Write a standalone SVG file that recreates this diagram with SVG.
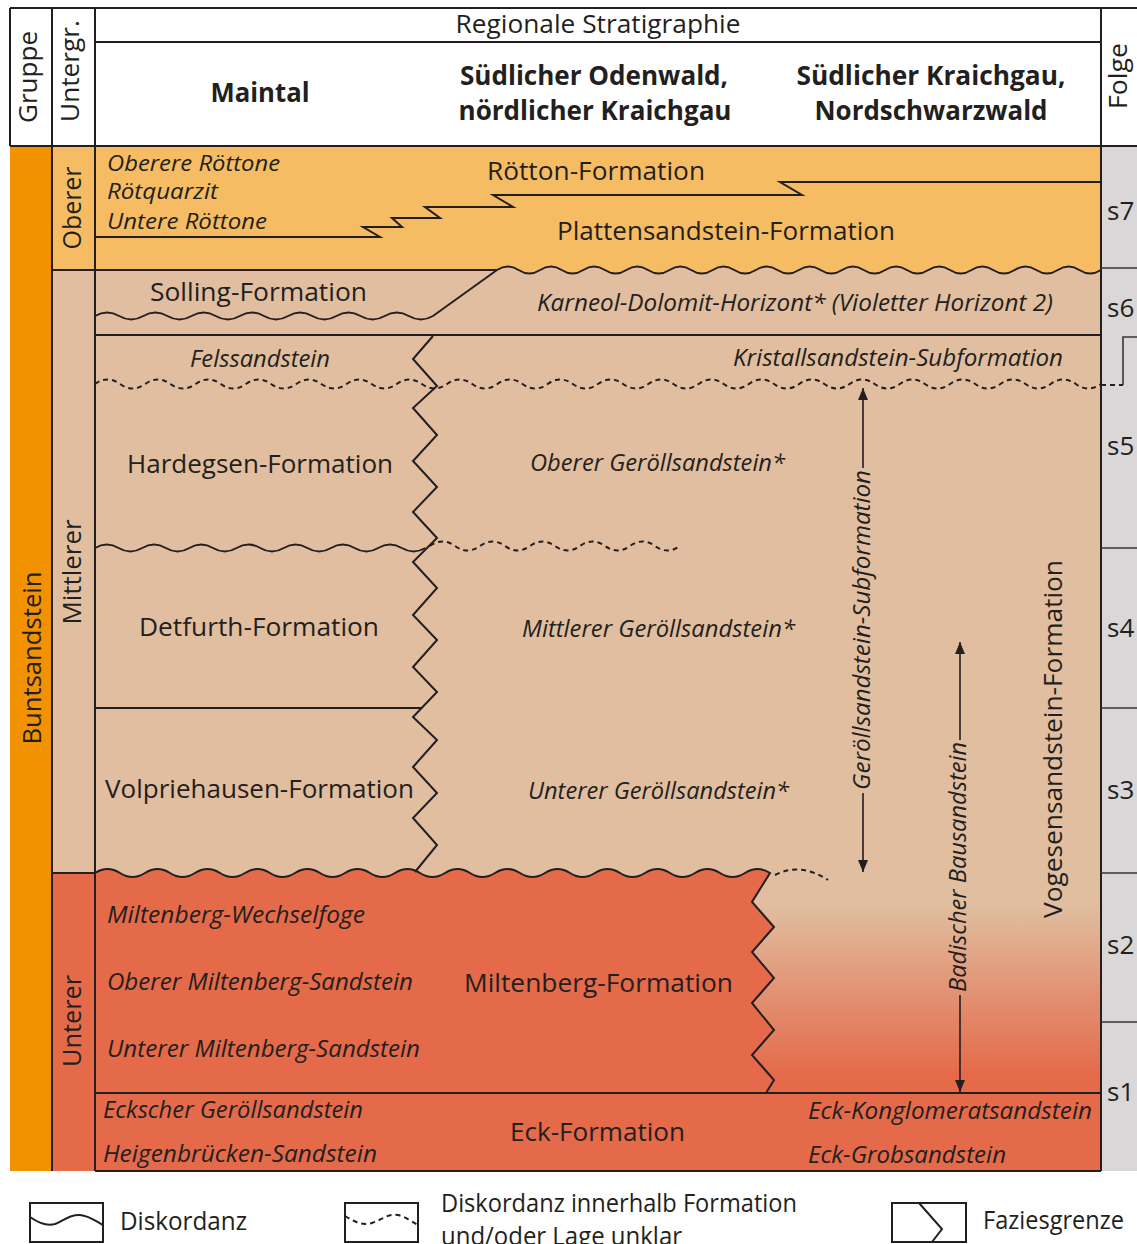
<svg xmlns="http://www.w3.org/2000/svg" width="1137" height="1244" viewBox="0 0 1137 1244">
<defs>
<style>
.ln{fill:none;stroke:#231f20;stroke-width:2}
.dl{fill:none;stroke:#231f20;stroke-width:2;stroke-dasharray:5 4}
.fl{fill:none;stroke:#3a3637;stroke-width:1.6}
.t{font-family:"Open Sans","Liberation Sans",sans-serif;fill:#231f20;font-size:26px}
.i{font-style:italic;font-size:24px}
.s{font-size:22px}
.b{font-weight:bold}
.ar{fill:none;stroke:#231f20;stroke-width:1.6;marker-end:url(#ah)}
</style>
<marker id="ah" viewBox="0 0 12 10" refX="12" refY="5" markerWidth="12" markerHeight="10" markerUnits="userSpaceOnUse" orient="auto"><path d="M0,0 L12,5 L0,10 z" fill="#231f20"/></marker>
<linearGradient id="grad" gradientUnits="userSpaceOnUse" x1="0" y1="905" x2="0" y2="1075"><stop offset="0" stop-color="#e0be9f"/><stop offset="1" stop-color="#e46a4a"/></linearGradient>
</defs>
<rect width="1137" height="1244" fill="#ffffff"/>

<g id="fills">
<rect x="10" y="146" width="42" height="1025" fill="#f39200"/>
<rect x="52" y="146" width="43" height="124" fill="#f6bc63"/>
<rect x="52" y="270" width="43" height="603" fill="#e0be9f"/>
<rect x="52" y="873" width="43" height="298" fill="#e46a4a"/>
<rect x="1101" y="146" width="36" height="1025" fill="#d9d7d8"/>
<rect x="95" y="146" width="1006" height="140" fill="#f6bc63"/>
<path d="M95,270 L497,270 q10.79,-7 21.57,0 t21.57,0 t21.57,0 t21.57,0 t21.57,0 t21.57,0 t21.57,0 t21.57,0 t21.57,0 t21.57,0 t21.57,0 t21.57,0 t21.57,0 t21.57,0 t21.57,0 t21.57,0 t21.57,0 t21.57,0 t21.57,0 t21.57,0 t21.57,0 t21.57,0 t21.57,0 t21.57,0 t21.57,0 t21.57,0 t21.57,0 t21.57,0 L1101,1093 L95,1093 Z" fill="#e0be9f"/>
<rect x="752" y="873" width="349" height="220" fill="url(#grad)"/>
<path d="M95,873 q12.5,-8 25,0 t25,0 t25,0 t25,0 t25,0 t25,0 t25,0 t25,0 t25,0 t25,0 t25,0 t25,0 t25,0 t25,0 t25,0 t25,0 t25,0 t25,0 t25,0 t25,0 t25,0 t25,0 t25,0 t25,0 t25,0 t25,0 t25,0 L752,902 L774,927 L752,952 L774,978 L752,1003 L774,1030 L752,1055 L774,1080 L766,1093 L95,1093 Z" fill="#e46a4a"/>
<rect x="95" y="1093" width="1006" height="78" fill="#e46a4a"/>
</g>

<g id="connectors">
<path class="ln" d="M10,8 H1137 M10,8 V146 M52,8 V1171 M95,8 V1171 M1101,8 V1171 M95,42 H1101 M10,146 H1137 M95,1171 H1101"/>
<path class="ln" d="M52,270 H497 M52,873 H95 M95,335 H1101 M95,708 H422 M95,1093 H1101"/>
<path class="ln" d="M95,237 L380,237 L363,227 L402,227 L392,218 L440,218 L425,207 L513,207 L493,195 L802,195 L780,182 L1101,182"/>
<path class="ln" d="M497,270 q10.79,-7 21.57,0 t21.57,0 t21.57,0 t21.57,0 t21.57,0 t21.57,0 t21.57,0 t21.57,0 t21.57,0 t21.57,0 t21.57,0 t21.57,0 t21.57,0 t21.57,0 t21.57,0 t21.57,0 t21.57,0 t21.57,0 t21.57,0 t21.57,0 t21.57,0 t21.57,0 t21.57,0 t21.57,0 t21.57,0 t21.57,0 t21.57,0 t21.57,0"/>
<path class="ln" d="M95,316 q12.07,-7 24.14,0 t24.14,0 t24.14,0 t24.14,0 t24.14,0 t24.14,0 t24.14,0 t24.14,0 t24.14,0 t24.14,0 t24.14,0 t24.14,0 t24.14,0 t24.14,0 L497,270"/>
<path class="ln" d="M95,548 q11.8,-7 23.6,0 t23.6,0 t23.6,0 t23.6,0 t23.6,0 t23.6,0 t23.6,0 t23.6,0 t23.6,0 t23.6,0 t23.6,0 t23.6,0 t23.6,0 t23.6,0"/>
<path class="ln" d="M95,873 q12.5,-8 25,0 t25,0 t25,0 t25,0 t25,0 t25,0 t25,0 t25,0 t25,0 t25,0 t25,0 t25,0 t25,0 t25,0 t25,0 t25,0 t25,0 t25,0 t25,0 t25,0 t25,0 t25,0 t25,0 t25,0 t25,0 t25,0 t25,0 L752,902 L774,927 L752,952 L774,978 L752,1003 L774,1030 L752,1055 L774,1080 L766,1093"/>
<path class="ln" d="M433,336 L413,359 L437,386 L413,408 L437,435 L413,461 L437,487 L413,512 L437,538 L413,562 L437,588 L413,615 L437,640 L413,667 L437,692 L413,717 L437,740 L413,767 L437,793 L413,818 L437,845 L415,872"/>
<path class="dl" d="M95,384 q12.575,-9 25.15,0 t25.15,0 t25.15,0 t25.15,0 t25.15,0 t25.15,0 t25.15,0 t25.15,0 t25.15,0 t25.15,0 t25.15,0 t25.15,0 t25.15,0 t25.15,0 t25.15,0 t25.15,0 t25.15,0 t25.15,0 t25.15,0 t25.15,0 t25.15,0 t25.15,0 t25.15,0 t25.15,0 t25.15,0 t25.15,0 t25.15,0 t25.15,0 t25.15,0 t25.15,0 t25.15,0 t25.15,0 t25.15,0 t25.15,0 t25.15,0 t25.15,0 t25.15,0 t25.15,0 t25.15,0 t25.15,0"/>
<path class="dl" d="M430,546 q12.5,-9 25,0 t25,0 t25,0 t25,0 t25,0 t25,0 t25,0 t25,0 t25,0 t25,0"/>
<path class="dl" d="M775,875 Q800,862 828,880"/>
<path class="dl" d="M1101,385 H1123"/>
<path class="fl" d="M1123,385 V337 H1137 M1101,268 H1137 M1101,548 H1137 M1101,708 H1137 M1101,873 H1137 M1101,1022 H1137"/>
<path class="ar" d="M863,468 V388"/>
<path class="ar" d="M863,793 V872"/>
<path class="ar" d="M960,740 V642"/>
<path class="ar" d="M960,995 V1092"/>
</g>

<g id="header">
<text class="t" transform="translate(37,77) rotate(-90)" text-anchor="middle" textLength="92" lengthAdjust="spacingAndGlyphs">Gruppe</text>
<text class="t" transform="translate(79,71) rotate(-90)" text-anchor="middle" textLength="102" lengthAdjust="spacingAndGlyphs">Untergr.</text>
<text class="t" x="598" y="33" font-size="23" text-anchor="middle" textLength="285" lengthAdjust="spacingAndGlyphs">Regionale Stratigraphie</text>
<text class="t b" x="260" y="102" text-anchor="middle" textLength="99" lengthAdjust="spacingAndGlyphs">Maintal</text>
<text class="t b" x="594" y="85" text-anchor="middle" textLength="268" lengthAdjust="spacingAndGlyphs">Südlicher Odenwald,</text>
<text class="t b" x="595" y="120" text-anchor="middle" textLength="273" lengthAdjust="spacingAndGlyphs">nördlicher Kraichgau</text>
<text class="t b" x="931" y="85" text-anchor="middle" textLength="269" lengthAdjust="spacingAndGlyphs">Südlicher Kraichgau,</text>
<text class="t b" x="931" y="120" text-anchor="middle" textLength="233" lengthAdjust="spacingAndGlyphs">Nordschwarzwald</text>
<text class="t" transform="translate(1127,76) rotate(-90)" text-anchor="middle" textLength="66" lengthAdjust="spacingAndGlyphs">Folge</text>
</g>

<g id="gruppe"><text class="t" transform="translate(41,658) rotate(-90)" text-anchor="middle" textLength="173" lengthAdjust="spacingAndGlyphs">Buntsandstein</text></g>
<g id="untergruppen">
<text class="t" transform="translate(81,208) rotate(-90)" text-anchor="middle" textLength="83" lengthAdjust="spacingAndGlyphs">Oberer</text>
<text class="t" transform="translate(81,572) rotate(-90)" text-anchor="middle" textLength="105" lengthAdjust="spacingAndGlyphs">Mittlerer</text>
<text class="t" transform="translate(81,1021) rotate(-90)" text-anchor="middle" textLength="92" lengthAdjust="spacingAndGlyphs">Unterer</text>
</g>

<g id="oberer">
<text class="t i s" x="107" y="171" textLength="173" lengthAdjust="spacingAndGlyphs">Oberere Röttone</text>
<text class="t i s" x="107" y="199" textLength="111" lengthAdjust="spacingAndGlyphs">Rötquarzit</text>
<text class="t i s" x="107" y="229" textLength="160" lengthAdjust="spacingAndGlyphs">Untere Röttone</text>
<text class="t" x="487" y="180" textLength="218" lengthAdjust="spacingAndGlyphs">Rötton-Formation</text>
<text class="t" x="557" y="240" textLength="338" lengthAdjust="spacingAndGlyphs">Plattensandstein-Formation</text>
</g>

<g id="mittlerer">
<text class="t" x="150" y="301" textLength="217" lengthAdjust="spacingAndGlyphs">Solling-Formation</text>
<text class="t i" x="537" y="311" textLength="516" lengthAdjust="spacingAndGlyphs">Karneol-Dolomit-Horizont* (Violetter Horizont 2)</text>
<text class="t i" x="190" y="367" textLength="140" lengthAdjust="spacingAndGlyphs">Felssandstein</text>
<text class="t i" x="733" y="366" textLength="330" lengthAdjust="spacingAndGlyphs">Kristallsandstein-Subformation</text>
<text class="t" x="127" y="473" textLength="266" lengthAdjust="spacingAndGlyphs">Hardegsen-Formation</text>
<text class="t i" x="530" y="471" textLength="255" lengthAdjust="spacingAndGlyphs">Oberer Geröllsandstein*</text>
<text class="t" x="139" y="636" textLength="240" lengthAdjust="spacingAndGlyphs">Detfurth-Formation</text>
<text class="t i" x="522" y="637" textLength="273" lengthAdjust="spacingAndGlyphs">Mittlerer Geröllsandstein*</text>
<text class="t" x="105" y="798" textLength="309" lengthAdjust="spacingAndGlyphs">Volpriehausen-Formation</text>
<text class="t i" x="528" y="799" textLength="261" lengthAdjust="spacingAndGlyphs">Unterer Geröllsandstein*</text>
<text class="t i" transform="translate(870,630) rotate(-90)" font-size="23" text-anchor="middle" textLength="320" lengthAdjust="spacingAndGlyphs">Geröllsandstein-Subformation</text>
<text class="t i" transform="translate(966,867) rotate(-90)" font-size="23" text-anchor="middle" textLength="250" lengthAdjust="spacingAndGlyphs">Badischer Bausandstein</text>
<text class="t" transform="translate(1062,739) rotate(-90)" text-anchor="middle" textLength="358" lengthAdjust="spacingAndGlyphs">Vogesensandstein-Formation</text>
</g>

<g id="unterer">
<text class="t i" x="107" y="923" textLength="258" lengthAdjust="spacingAndGlyphs">Miltenberg-Wechselfoge</text>
<text class="t i" x="107" y="990" textLength="306" lengthAdjust="spacingAndGlyphs">Oberer Miltenberg-Sandstein</text>
<text class="t" x="464" y="992" textLength="269" lengthAdjust="spacingAndGlyphs">Miltenberg-Formation</text>
<text class="t i" x="107" y="1057" textLength="313" lengthAdjust="spacingAndGlyphs">Unterer Miltenberg-Sandstein</text>
<text class="t i" x="103" y="1118" textLength="260" lengthAdjust="spacingAndGlyphs">Eckscher Geröllsandstein</text>
<text class="t i" x="103" y="1162" textLength="274" lengthAdjust="spacingAndGlyphs">Heigenbrücken-Sandstein</text>
<text class="t" x="510" y="1141" textLength="175" lengthAdjust="spacingAndGlyphs">Eck-Formation</text>
<text class="t i" x="808" y="1119" textLength="284" lengthAdjust="spacingAndGlyphs">Eck-Konglomeratsandstein</text>
<text class="t i" x="808" y="1163" textLength="198" lengthAdjust="spacingAndGlyphs">Eck-Grobsandstein</text>
</g>

<g id="folge">
<text class="t" x="1107" y="220">s7</text>
<text class="t" x="1107" y="317">s6</text>
<text class="t" x="1107" y="455">s5</text>
<text class="t" x="1107" y="637">s4</text>
<text class="t" x="1107" y="799">s3</text>
<text class="t" x="1107" y="954">s2</text>
<text class="t" x="1107" y="1101">s1</text>
</g>

<g id="legend">
<rect x="30" y="1203" width="73" height="39" fill="none" stroke="#231f20" stroke-width="2"/>
<path class="ln" d="M30,1217 C40,1224 48,1226 55,1224 C63,1221 70,1214 80,1215 C90,1216 97,1222 103,1225"/>
<text class="t" x="120" y="1230" textLength="127" lengthAdjust="spacingAndGlyphs">Diskordanz</text>
<rect x="345" y="1203" width="73" height="39" fill="none" stroke="#231f20" stroke-width="2"/>
<path class="dl" d="M345,1216 C355,1222 362,1226 372,1223 C382,1220 388,1213 398,1215 C406,1217 412,1222 418,1225"/>
<text class="t" x="441" y="1212" textLength="356" lengthAdjust="spacingAndGlyphs">Diskordanz innerhalb Formation</text>
<text class="t" x="441" y="1245" textLength="241" lengthAdjust="spacingAndGlyphs">und/oder Lage unklar</text>
<rect x="892" y="1203" width="74" height="39" fill="none" stroke="#231f20" stroke-width="2"/>
<path class="ln" d="M919,1203 L942,1229 L932,1242"/>
<text class="t" x="983" y="1229" textLength="141" lengthAdjust="spacingAndGlyphs">Faziesgrenze</text>
</g>
</svg>
